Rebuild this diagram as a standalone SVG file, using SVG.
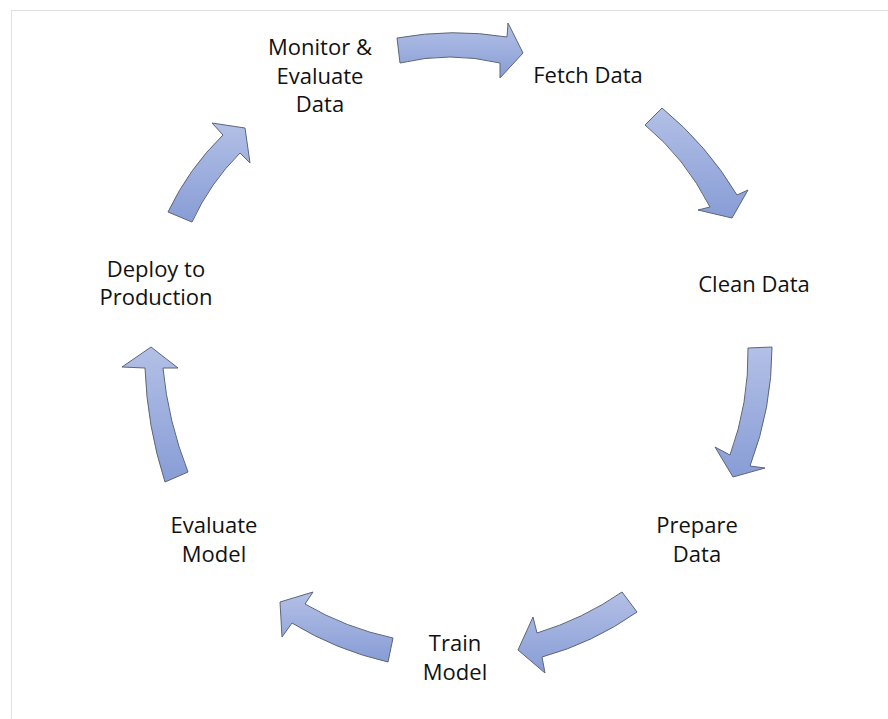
<svg xmlns="http://www.w3.org/2000/svg" width="888" height="719" viewBox="0 0 888 719">
<style>
.lbl{font-family:"Open Sans","Noto Sans","Liberation Sans",sans-serif;font-size:22px;fill:#111;text-anchor:middle}
.arr{fill:url(#g);stroke:#5c6677;stroke-width:1;stroke-linejoin:miter}
</style>
<defs>
<linearGradient id="g" x1="0" y1="0" x2="0" y2="1">
<stop offset="0" stop-color="#b3c0e6"/>
<stop offset="1" stop-color="#889dd6"/>
</linearGradient>
</defs>
<rect x="0" y="0" width="888" height="719" fill="#fff"/>
<rect x="11.5" y="10.5" width="900" height="740" fill="none" stroke="#e2e2e2" stroke-width="1"/>
<g id="connectors">
<path class="arr" d="M397,38 Q452,28 507,37 L508,23 L523,53 L500,78 L500,63 Q450,51 400,63 Z"/>
<path class="arr" d="M662,108 Q707,145 737,195 L748,190 L732,218 L698,210 L710,207 Q685,158 645,125 Z"/>
<path class="arr" d="M772,347 Q772,408 750,466 L765,468 L733,477 L715,447 L730,455 Q749,403 748,348 Z"/>
<path class="arr" d="M622,592 Q583,619 537,633 L533,617 L518,650 L545,673 L542,657 Q593,643 637,612 Z"/>
<path class="arr" d="M393,638 Q346,628 305,604 L313,592 L280,602 L282,637 L292,623 Q336,650 388,662 Z"/>
<path class="arr" d="M188,472 Q168,421 163,368 L178,368 L151,347 L122,367 L145,368 Q147,426 165,482 Z"/>
<path class="arr" d="M168,212 Q189,168 223,135 L212,123 L245,128 L250,163 L240,153 Q210,183 192,222 Z"/>
</g>
<g id="node-monitor"><text class="lbl" x="320" y="55">Monitor &amp;</text><text class="lbl" x="320" y="83.5">Evaluate</text><text class="lbl" x="320" y="112">Data</text></g>
<g id="node-fetch"><text class="lbl" x="588" y="83">Fetch Data</text></g>
<g id="node-clean"><text class="lbl" x="754" y="292">Clean Data</text></g>
<g id="node-prepare"><text class="lbl" x="697" y="533">Prepare</text><text class="lbl" x="697" y="561.5">Data</text></g>
<g id="node-train"><text class="lbl" x="455" y="651">Train</text><text class="lbl" x="455" y="679.5">Model</text></g>
<g id="node-evaluate"><text class="lbl" x="214" y="533">Evaluate</text><text class="lbl" x="214" y="561.5">Model</text></g>
<g id="node-deploy"><text class="lbl" x="156" y="277">Deploy to</text><text class="lbl" x="156" y="305">Production</text></g>
</svg>
